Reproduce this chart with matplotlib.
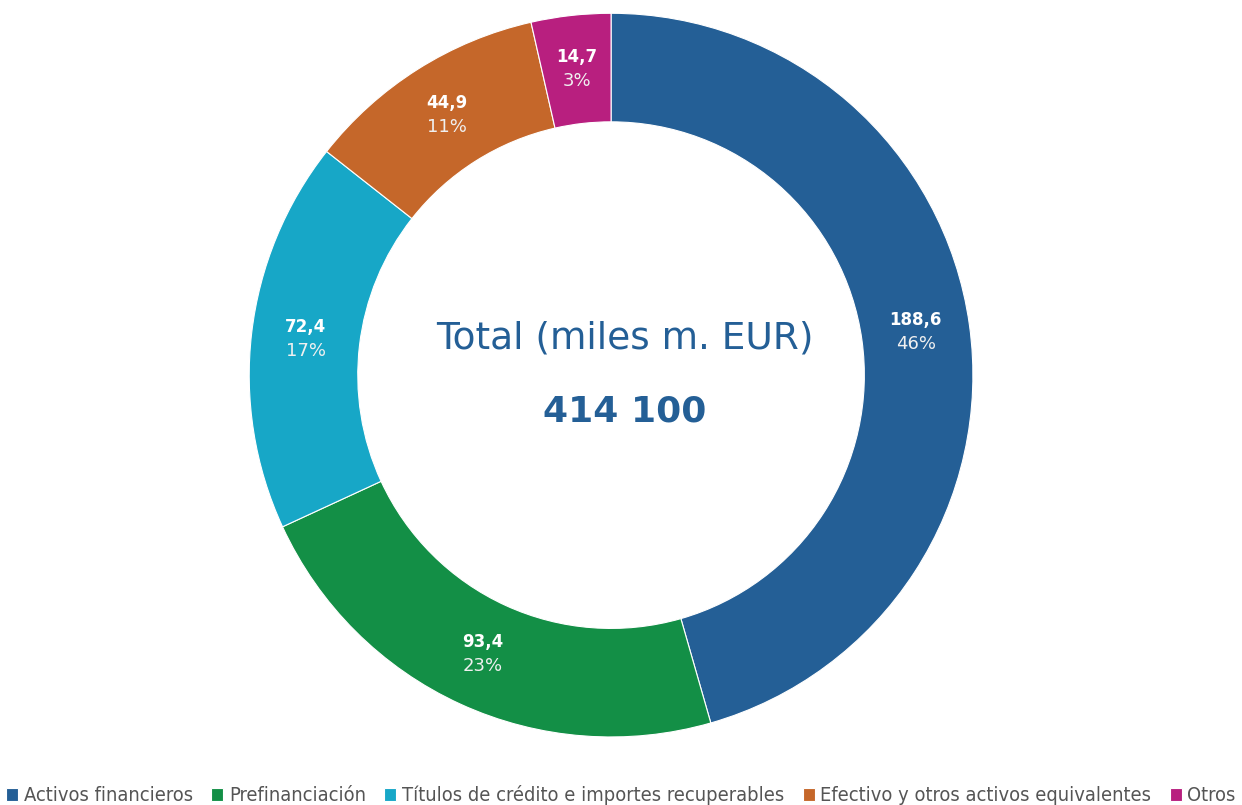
import matplotlib
matplotlib.use("Agg")
import matplotlib.pyplot as plt
import numpy as n

# Datos
categorias = ["Activos financieros", "Prefinanciación",
              "Títulos de crédito e importes recuperables",
              "Efectivo y otros activos equivalentes", "Otros"]
valores = [188.6, 93.4, 72.4, 44.9, 14.7]
etiquetas_valor = ["188,6", "93,4", "72,4", "44,9", "14,7"]
etiquetas_pct = ["46%", "23%", "17%", "11%", "3%"]
colores = ["#245F96", "#138F46", "#17A7C7", "#C5672A", "#B81F7F"]
total_txt = "414 100"

fig = plt.figure(figsize=(12.42, 8.05), dpi=100)
ax = fig.add_axes([0.2005, 0.0845, 0.583, 0.899])

wedges, _ = ax.pie(valores, colors=colores, startangle=90, counterclock=False,
                   radius=1.0, wedgeprops=dict(width=0.30, edgecolor="white", linewidth=0.8))

tot = sum(valores)
acum = 0
r_lab = 0.85
for v, lv, lp in zip(valores, etiquetas_valor, etiquetas_pct):
    ang = n.deg2rad(90 - (acum + v / 2) / tot * 360)
    acum += v
    x, y = r_lab * n.cos(ang), r_lab * n.sin(ang)
    ax.text(x, y + 0.035, lv, ha="center", va="center", color="white",
            fontsize=12, fontweight="bold")
    ax.text(x, y - 0.032, lp, ha="center", va="center", color="#F0F0F0",
            fontsize=13)

ax.text(0.037, 0.1, "Total (miles m. EUR)", ha="center", va="center",
        color="#245F96", fontsize=27)
ax.text(0.037, -0.1, total_txt, ha="center", va="center",
        color="#245F96", fontsize=26, fontweight="heavy")

ax.set_xlim(-1, 1)
ax.set_ylim(-1, 1)
ax.set_aspect("equal")
ax.axis("off")

leg = fig.legend(wedges, categorias, loc="center", bbox_to_anchor=(0.5, 0.012),
                 ncol=5, frameon=False, handlelength=0.6,
                 handleheight=0.6, handletextpad=0.3, columnspacing=0.9,
                 prop={"family": "DejaVu Sans", "stretch": "condensed", "size": 14.4})
for t in leg.get_texts():
    t.set_color("#555555")

fig.savefig("out.png", dpi=100)
